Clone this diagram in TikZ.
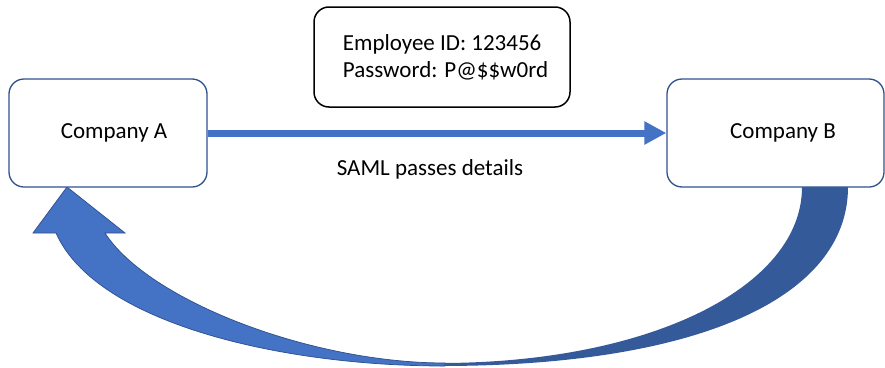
\documentclass[tikz,border=0pt]{standalone}
\usepackage{fontspec}
\setmainfont{Carlito}
\usetikzlibrary{arrows.meta}
\definecolor{accent}{RGB}{68,114,196}
\definecolor{accentdark}{RGB}{47,82,143}
\definecolor{bandback}{RGB}{53,90,154}
\begin{document}
\begin{tikzpicture}[x=1pt,y=-1pt,
  every node/.style={font=\fontsize{23}{27}\selectfont, text=black},
  company/.style={draw=accentdark, line width=1.3pt, rounded corners=15pt,
    fill=white, minimum height=108pt, inner sep=0pt},
  infobox/.style={draw=black, line width=1.5pt, rounded corners=15pt,
    fill=white, minimum width=256pt, minimum height=100pt, inner sep=0pt,
    align=left},
  flow/.style={accent, line width=7pt, -{Triangle[length=22pt,width=22pt]}},
  caption/.style={inner sep=0pt}]
\useasboundingbox (0,0) rectangle (885,367);

% return band: shaded back half from Company B down to the bottom
\fill[bandback] (802,187) -- (848,187)
  .. controls (848,297) and (700,366) .. (440,366) -- (440,363)
  .. controls (650,363) and (802,287) .. (802,187) -- cycle;

% return band: front half rising to the arrow head under Company A
\filldraw[fill=accent, draw=accentdark, line width=0.75pt]
  (56,233) -- (33,233) -- (67,187) -- (125,233) -- (105,233)
  .. controls (148,300) and (310,363) .. (445,363) -- (445,366)
  .. controls (280,366) and (96,323) .. (56,233) -- cycle;

% parties
\node[company, minimum width=198pt] (A) at (108,133) {\hspace*{12pt}Company A};
\node[company, minimum width=217pt] (B) at (775.5,133) {\hspace*{15pt}Company B};

% credentials
\node[infobox] (cred) at (442,57) {\hspace*{7pt}Employee ID: 123456\\\hspace*{7pt}Password: P@\$\$w0rd};

% forward flow
\draw[flow] (A.east) -- (B.west);
\node[caption] (saml) at (430,169) {SAML passes details};
\end{tikzpicture}
\end{document}
